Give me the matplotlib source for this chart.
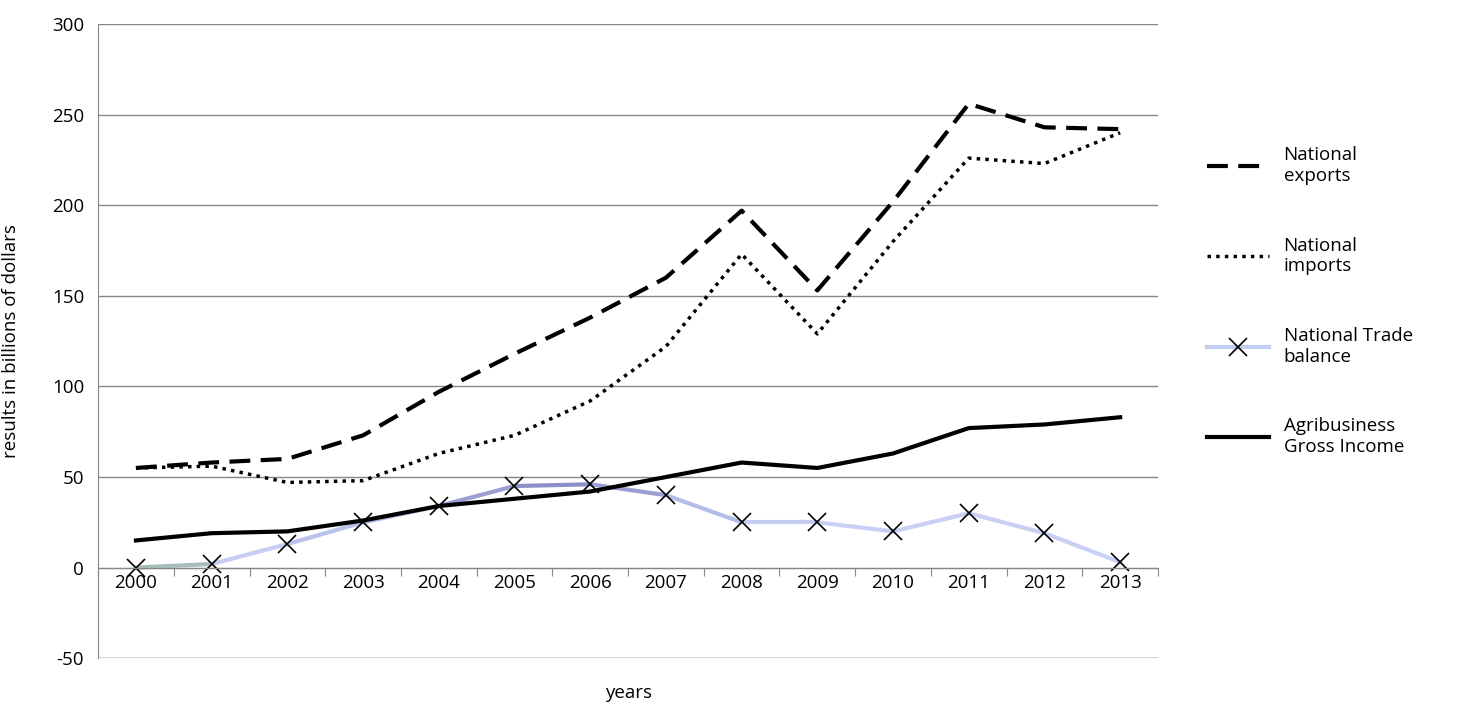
import numpy as np
import matplotlib.pyplot as plt

years = [str(y) for y in range(2000, 2014)]
exports = [55, 58, 60, 73, 97, 118, 138, 160, 197, 153, 202, 256, 243, 242]
imports = [55, 56, 47, 48, 63, 73, 92, 122, 173, 129, 180, 226, 223, 240]
trade = [0, 2, 13, 25, 34, 45, 46, 40, 25, 25, 20, 30, 19, 3]
agri = [15, 19, 20, 26, 34, 38, 42, 50, 58, 55, 63, 77, 79, 83]
# per-segment shade of the trade-balance line (it fades in the original)
seg_colors = ["#a8bcbc", "#c4cdf2", "#b8c2ec", "#aab2e2", "#9a9ed2", "#8c90c8",
              "#9a9ed2", "#b4bce8", "#c4cdf2", "#c8d0f4", "#c8d0f4", "#c8d0f4", "#c8d0f4"]

plt.rcParams['font.family'] = ['Open Sans', 'DejaVu Sans']
plt.rcParams['axes.unicode_minus'] = False
fig = plt.figure(figsize=(14.64, 7.07), dpi=100)
ax = fig.add_axes([0.067, 0.069, 0.724, 0.897])
x = np.arange(len(years))
fs = 13.5

ax.plot(x, exports, color="black", lw=3, ls=(0, (5, 2.5)), label="National\nexports")
ax.plot(x, imports, color="black", lw=2.5, ls=(0, (1, 1.5)), label="National\nimports")
for i in range(len(x) - 1):
    ax.plot(x[i:i + 2], trade[i:i + 2], color=seg_colors[i], lw=3, solid_capstyle="round")
ax.plot(x, trade, ls="none", marker="x", ms=13, mew=1.2, color="black")
ax.plot([], [], color="#c4cdf2", lw=3, marker="x", ms=13, mew=1.2, mec="black",
        label="National Trade\nbalance")
ax.plot(x, agri, color="black", lw=3, label="Agribusiness\nGross Income")

ax.set_xlim(-0.5, 13.5)
ax.set_ylim(-50, 300)
ax.set_yticks(range(-50, 301, 50))
ax.grid(axis="y", color="#868686", lw=1)
ax.axhline(-50, color="#868686", lw=1, zorder=0)
ax.set_axisbelow(True)
for s in ["top", "right"]:
    ax.spines[s].set_visible(False)
ax.spines["left"].set_color("#868686")
ax.spines["bottom"].set_position(("data", 0))
ax.spines["bottom"].set_color("#868686")
ax.set_xticks(np.arange(-0.5, 14, 1))
ax.set_xticklabels([])
ax.tick_params(axis="x", length=6, color="#868686")
ax.tick_params(axis="y", length=0, labelsize=fs, pad=10)
for i, y in enumerate(years):
    ax.text(i, -3.5, y, ha="center", va="top", fontsize=fs)
ax.text(0.5, -0.055, "years", transform=ax.transAxes, ha="center", va="center", fontsize=fs)
ax.text(-0.082, 0.5, "results in billions of dollars", transform=ax.transAxes,
        ha="center", va="center", rotation=90, fontsize=fs)

ax.legend(loc="center left", bbox_to_anchor=(1.03, 0.563), frameon=False, fontsize=fs,
          handlelength=3.3, labelspacing=2.75)
fig.savefig("out.png", dpi=100)
